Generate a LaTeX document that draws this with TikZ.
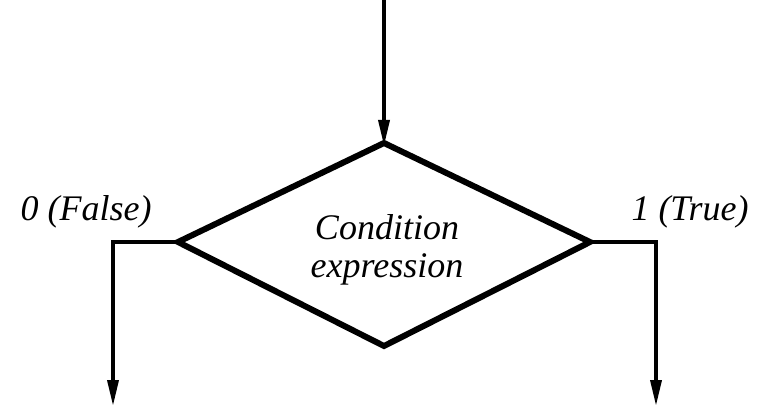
\documentclass[tikz,border=0pt]{standalone}
\usepackage{fontspec}
\setmainfont{Liberation Serif}
\usetikzlibrary{arrows.meta}
\begin{document}
\begin{tikzpicture}[x=1pt,y=-1pt,
  conn/.style={line width=3.5pt,-{Triangle[length=26pt,width=11pt]}},
  lbl/.style={font=\fontsize{36}{38}\selectfont\itshape,inner sep=0pt}]
\useasboundingbox (0,0) rectangle (765,406);
\coordinate (T) at (384,143);
\coordinate (L) at (178,242);
\coordinate (R) at (590,242);
\coordinate (B) at (384,346);
\coordinate (in) at (384,0);
\coordinate (lout) at (113,406);
\coordinate (rout) at (656,406);
\draw[line width=6pt,line join=miter] (T) -- (R) -- (B) -- (L) -- cycle;
\node[lbl,align=center] (cond) at (387,250) {Condition\\expression};
\draw[conn] (in) -- ([yshift=-3pt]T);
\draw[conn] (L) -| (lout);
\draw[conn] (R) -| (rout);
\node[lbl] (f) at (86,212) {0 (False)};
\node[lbl] (t) at (690,212) {1 (True)};
\end{tikzpicture}
\end{document}
